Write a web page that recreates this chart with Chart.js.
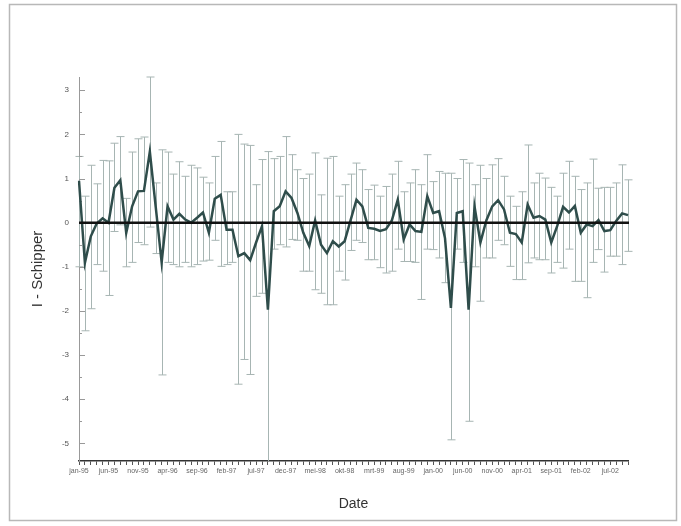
<!DOCTYPE html>
<html><head><meta charset="utf-8">
<script src="https://cdn.jsdelivr.net/npm/chart.js@4.4.1/dist/chart.umd.min.js"></script>
<style>html,body{margin:0;padding:0;background:#fff;}#wrap{width:681px;height:526px;position:relative;}</style>
</head><body><div id="wrap"><canvas id="c" width="681" height="526"></canvas></div>
<script>
// Dutch month abbreviations, monthly categories jan-95 .. okt-02
const monthNames = ['jan','feb','mrt','apr','mei','jun','jul','aug','sep','okt','nov','dec'];
const categories = [];
for (let y = 95; y <= 102; y++) for (let m = 0; m < 12; m++) {
  if (categories.length < 94) categories.push(monthNames[m] + '-' + String(y % 100).padStart(2, '0'));
}
const xTickLabels = ['jan-95','jun-95','nov-95','apr-96','sep-96','feb-97','jul-97','dec-97','mei-98','okt-98','mrt-99','aug-99','jan-00','jun-00','nov-00','apr-01','sep-01','feb-02','jul-02'];
const yTickValues = [3,2,1,0,-1,-2,-3,-4,-5];

const values = [0.95,-0.91,-0.31,-0.02,0.10,0.00,0.79,0.96,-0.23,0.37,
  0.71,0.72,1.61,0.35,-0.90,0.37,0.07,0.20,0.07,0.00,
  0.11,0.23,-0.23,0.54,0.63,-0.16,-0.16,-0.76,-0.69,-0.85,
  -0.45,-0.08,-1.97,0.26,0.37,0.71,0.56,0.22,-0.23,-0.53,
  0.05,-0.50,-0.69,-0.42,-0.54,-0.42,0.05,0.52,0.37,-0.12,
  -0.14,-0.19,-0.15,0.05,0.52,-0.38,-0.04,-0.19,-0.21,0.60,
  0.22,0.26,-0.35,-1.93,0.22,0.26,-1.97,0.37,-0.45,0.05,
  0.37,0.51,0.30,-0.23,-0.26,-0.45,0.41,0.11,0.15,0.07,
  -0.45,-0.08,0.36,0.23,0.38,-0.23,-0.04,-0.08,0.06,-0.19,
  -0.17,0.04,0.21,0.17];
const errHigh = [1.5,0.6,1.3,0.88,1.41,1.4,1.8,1.95,0.55,1.6,
  1.9,1.94,3.3,0.9,1.65,1.6,1.1,1.38,1.05,1.3,
  1.24,1.03,0.9,1.5,1.84,0.7,0.7,2.0,1.78,1.75,
  0.86,1.43,1.61,1.45,1.5,1.95,1.54,1.2,1.0,1.1,
  1.58,0.63,1.46,1.5,0.6,0.86,1.1,1.35,1.2,0.75,
  0.85,0.6,0.82,1.1,1.39,0.7,0.9,1.2,0.86,1.54,
  0.93,1.16,1.12,1.12,1.0,1.43,1.35,0.86,1.3,1.0,
  1.31,1.45,1.05,0.6,0.37,0.7,1.76,0.9,1.12,1.01,
  0.8,0.6,1.12,1.39,1.05,0.75,0.9,1.44,0.78,0.8,
  0.8,0.9,1.31,0.97];
const errLow = [-1.0,-2.45,-1.95,-0.95,-1.1,-1.65,-0.2,-0.05,-1.0,-0.9,
  -0.45,-0.5,-0.1,-0.7,-3.45,-0.9,-0.95,-1.0,-0.9,-1.0,
  -0.95,-0.87,-0.85,-0.4,-0.99,-0.95,-0.9,-3.66,-3.1,-3.44,
  -1.67,-1.6,-5.5,-0.6,-0.5,-0.55,-0.38,-0.4,-1.1,-1.1,
  -1.52,-1.6,-1.86,-1.86,-1.1,-1.3,-0.63,-0.4,-0.45,-0.84,
  -0.84,-1.02,-1.14,-1.1,-0.6,-0.88,-0.88,-0.9,-1.74,-0.6,
  -0.61,-0.8,-1.36,-4.92,-0.6,-0.9,-4.5,-1.0,-1.78,-0.8,
  -0.8,-0.4,-0.5,-0.99,-1.29,-1.29,-0.91,-0.8,-0.84,-0.84,
  -1.14,-0.9,-1.03,-0.6,-1.33,-1.33,-1.7,-0.9,-0.61,-1.12,
  -0.76,-0.76,-0.95,-0.65];

const framePlugin = {
  id: 'frame',
  beforeDraw(chart) {
    const ctx = chart.ctx;
    ctx.save();
    ctx.fillStyle = '#fff';
    ctx.fillRect(0, 0, chart.width, chart.height);
    ctx.strokeStyle = '#b8b8b8';
    ctx.lineWidth = 1.5;
    ctx.strokeRect(9.5, 4.5, 667, 516);
    ctx.restore();
  }
};

const errorBarPlugin = {
  id: 'errorBars',
  beforeDatasetsDraw(chart) {
    const ctx = chart.ctx, xs = chart.scales.x, ys = chart.scales.y, a = chart.chartArea;
    ctx.save();
    ctx.beginPath();
    ctx.rect(a.left - 6, a.top - 2, a.right - a.left + 12, a.bottom - a.top + 2);
    ctx.clip();
    ctx.strokeStyle = '#a7b5b3';
    ctx.lineWidth = 1;
    for (let i = 0; i < values.length; i++) {
      const x = Math.round(xs.getPixelForValue(i)) + 0.5;
      const yh = ys.getPixelForValue(errHigh[i]);
      const yl = ys.getPixelForValue(errLow[i]);
      ctx.beginPath();
      ctx.moveTo(x, yh); ctx.lineTo(x, yl);
      ctx.moveTo(x - 4, yh); ctx.lineTo(x + 4, yh);
      if (yl <= a.bottom) { ctx.moveTo(x - 4, yl); ctx.lineTo(x + 4, yl); }
      ctx.stroke();
    }
    ctx.restore();
    // inward y tick marks
    ctx.save();
    ctx.strokeStyle = '#999';
    ctx.lineWidth = 1;
    for (let v = -5; v <= 3.01; v += 0.5) {
      const y = Math.round(ys.getPixelForValue(v)) + 0.5;
      const len = Number.isInteger(v) ? 6 : 3;
      ctx.beginPath(); ctx.moveTo(a.left, y); ctx.lineTo(a.left + len, y); ctx.stroke();
    }
    ctx.restore();
  },
  afterDatasetsDraw(chart) {
    const ctx = chart.ctx, ys = chart.scales.y, a = chart.chartArea;
    const y0 = ys.getPixelForValue(0);
    ctx.save();
    ctx.strokeStyle = '#111';
    ctx.lineWidth = 2.5;
    ctx.beginPath(); ctx.moveTo(a.left, y0); ctx.lineTo(a.right + 1, y0); ctx.stroke();
    ctx.restore();
  }
};

new Chart(document.getElementById('c'), {
  type: 'line',
  data: {
    labels: categories,
    datasets: [{
      data: values,
      borderColor: '#2f4d4b',
      borderWidth: 2.5,
      pointRadius: 0,
      tension: 0,
      fill: false
    }]
  },
  options: {
    responsive: false,
    animation: false,
    layout: { padding: { left: 0, top: 77, right: 53, bottom: 0 } },
    plugins: { legend: { display: false }, tooltip: { enabled: false } },
    scales: {
      x: {
        type: 'category',
        offset: false,
        grid: { display: true, drawOnChartArea: false, drawTicks: true, tickLength: 4, color: '#555', tickWidth: 1 },
        border: { display: true, color: '#333', width: 1.5 },
        ticks: {
          autoSkip: false, maxRotation: 0, minRotation: 0, padding: 2,
          font: { family: 'Liberation Sans', size: 7 }, color: '#666',
          callback: (v, i) => xTickLabels.includes(categories[i]) ? categories[i] : ''
        },
        title: { display: true, text: 'Date', font: { family: 'Liberation Sans', size: 14 }, color: '#333', padding: { top: 0, bottom: 13 } },
        afterFit: s => { s.height = 65; }
      },
      y: {
        min: -5.4, max: 3.3,
        afterBuildTicks: s => { s.ticks = yTickValues.map(v => ({ value: v })); },
        grid: { display: false, drawTicks: false },
        border: { display: true, color: '#999', width: 1 },
        ticks: { padding: 10, font: { family: 'Liberation Sans', size: 8 }, color: '#555', callback: v => String(v) },
        title: { display: true, text: 'I - Schipper', font: { family: 'Liberation Sans', size: 15 }, color: '#333', padding: { top: 29, bottom: 0 } },
        afterFit: s => { s.width = 79; }
      }
    }
  },
  plugins: [framePlugin, errorBarPlugin]
});
</script>
</body></html>
